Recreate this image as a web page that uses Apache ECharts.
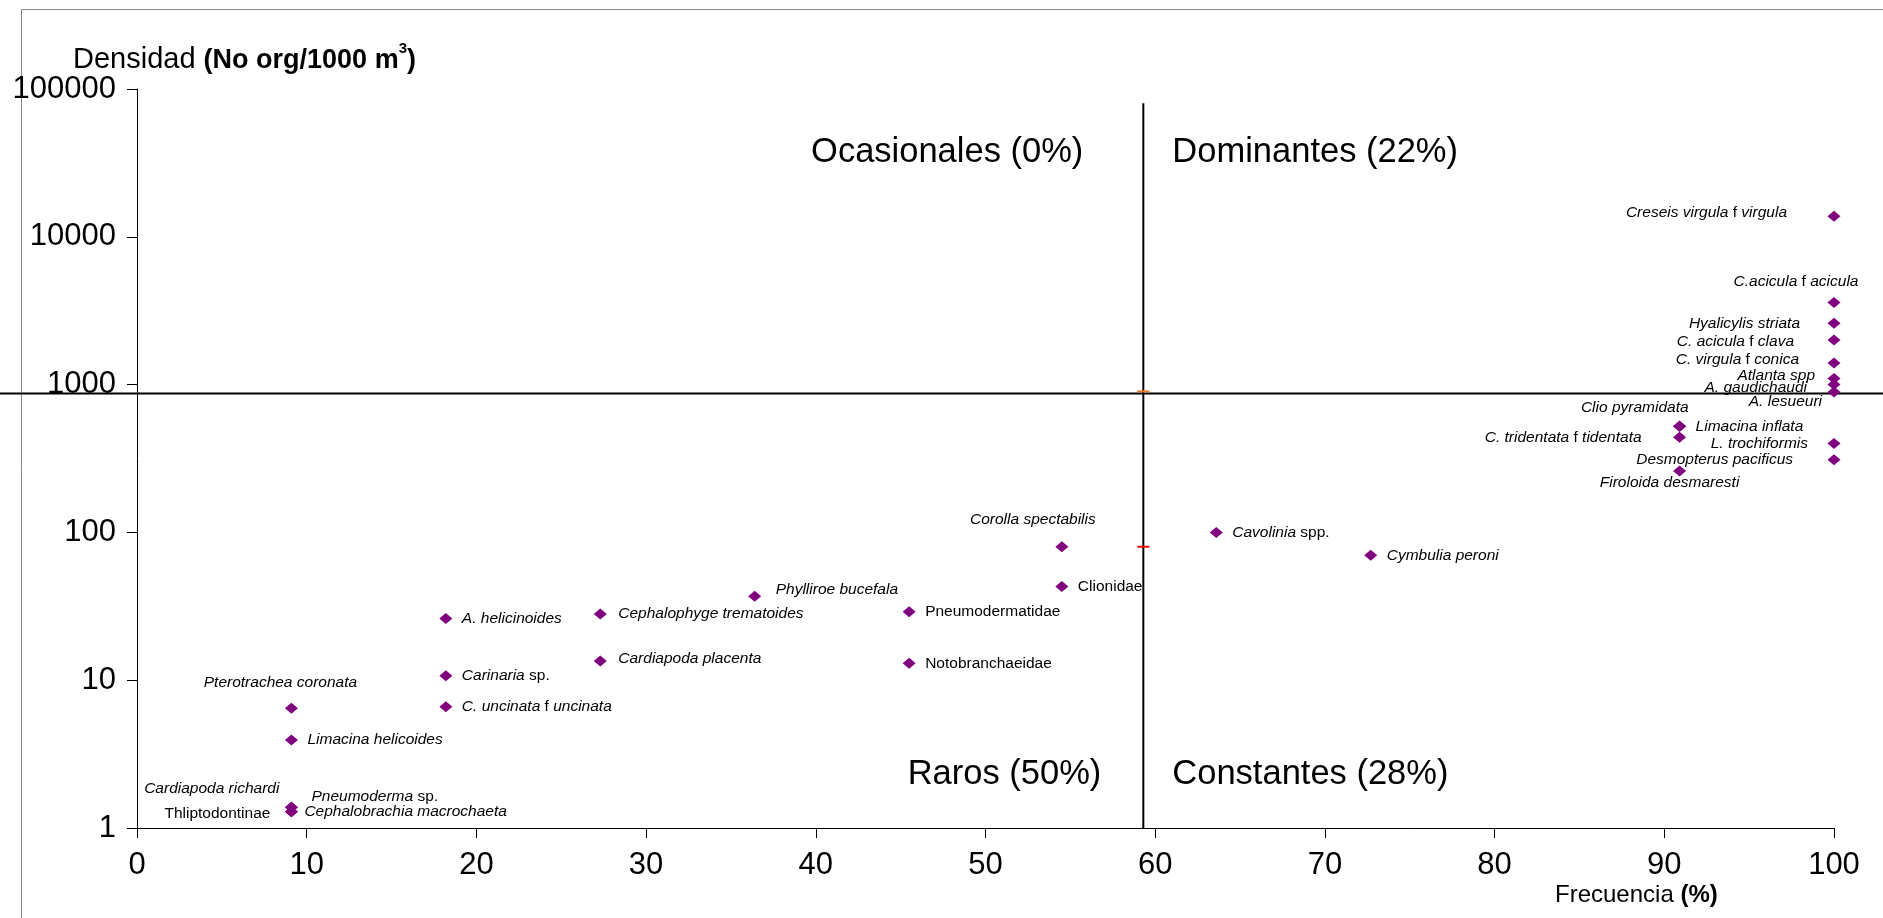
<!DOCTYPE html>
<html>
<head>
<meta charset="utf-8">
<script src="https://cdn.jsdelivr.net/npm/echarts@6/dist/echarts.min.js"></script>
<style>
  html, body { margin: 0; padding: 0; background: #fff; }
  #chart { width: 1883px; height: 918px; }
</style>
</head>
<body>
<div id="chart"></div>
<script>
// Species labels ({i|...} = italic part of the name)
const species = [
  '{i|Creseis virgula} f {i|virgula}',
  '{i|C.acicula} f {i|acicula}',
  '{i|Hyalicylis striata}',
  '{i|C. acicula} f {i|clava}',
  '{i|C. virgula} f {i|conica}',
  '{i|Atlanta spp}',
  '{i|A. gaudichaudi}',
  '{i|A. lesueuri}',
  '{i|Clio pyramidata}',
  '{i|Limacina inflata}',
  '{i|C. tridentata} f {i|tidentata}',
  '{i|L. trochiformis}',
  '{i|Desmopterus pacificus}',
  '{i|Firoloida desmaresti}',
  '{i|Cavolinia} spp.',
  '{i|Cymbulia peroni}',
  '{i|Corolla spectabilis}',
  'Clionidae',
  '{i|Phylliroe bucefala}',
  'Pneumodermatidae',
  '{i|Cephalophyge trematoides}',
  '{i|A. helicinoides}',
  '{i|Cardiapoda placenta}',
  'Notobranchaeidae',
  '{i|Carinaria} sp.',
  '{i|C. uncinata} f {i|uncinata}',
  '{i|Pterotrachea coronata}',
  '{i|Limacina helicoides}',
  '{i|Cardiapoda richardi}',
  '{i|Pneumoderma} sp.',
  'Thliptodontinae',
  '{i|Cephalobrachia macrochaeta}'
];

// Frequency of occurrence (%)
const frequency = [
  100, 100, 100, 100, 100, 100, 100, 100,
  90.9, 90.9, 90.9, 100, 100, 90.9,
  63.6, 72.7, 54.5, 54.5, 36.4, 45.5, 27.3, 18.2, 27.3, 45.5,
  18.2, 18.2, 9.1, 9.1, 9.1, 9.1, 9.1, 9.1
];

// Density (No org/1000 m3)
const density = [
  13800, 3600, 2600, 2000, 1400, 1100, 1000, 890,
  525, 520, 440, 400, 310, 260,
  100, 70, 80, 43, 37, 29, 28, 26.2, 13.5, 13,
  10.7, 6.6, 6.45, 3.94, 1.38, 1.38, 1.29, 1.29
];

// Quadrant dividers: mean frequency and mean density
const dividerFrequency = 59.3;
const dividerDensity = 877;

// Quadrant captions
const quadrantNames = ['Ocasionales (0%)', 'Dominantes (22%)', 'Raros (50%)', 'Constantes (28%)'];

// Axis ticks
const xTicks = [0, 10, 20, 30, 40, 50, 60, 70, 80, 90, 100];
const yTicks = [1, 10, 100, 1000, 10000, 100000];

// Where each species label sits around its marker: [align, dx, dy]
const labelPlacement = [
  ['right', -47, -3], ['center', -38, -21], ['right', -34, 0], ['right', -40, 2],
  ['right', -35, -3], ['right', -19, -3], ['right', -27, 3], ['right', -12, 10],
  ['right', 9, -18], ['left', 16, 0], ['right', -38, 0], ['right', -26, 0],
  ['right', -41, 0], ['center', -10, 12],
  ['left', 16, 0], ['left', 16, 0], ['center', -29, -27], ['left', 16, 0],
  ['left', 21, -7], ['left', 16, 0], ['left', 18, 0], ['left', 16, 0],
  ['left', 18, -2], ['left', 16, 0], ['left', 16, 0], ['left', 16, 0],
  ['center', -11, -26], ['left', 16, 0], ['right', -12, -19], ['left', 20, -11],
  ['right', -21, 2], ['left', 13, 0]
];

// Quadrant captions around the divider crossing: [density, align, dx]
const quadrantPlacement = [
  [37000, 'right', -60], [37000, 'left', 29],
  [2.3, 'right', -42], [2.3, 'left', 29]
];

const FONT = 'Liberation Sans, Arial, sans-serif';

const chart = echarts.init(document.getElementById('chart'), null, { renderer: 'canvas' });

const pointData = frequency.map((f, i) => ({
  value: [f, density[i]],
  label: { align: labelPlacement[i][0] }
}));

const quadrantData = quadrantPlacement.map(q => ({
  value: [dividerFrequency, q[0]],
  label: { align: q[1] }
}));

const option = {
  animation: false,
  backgroundColor: '#fff',
  grid: { left: 137, right: 49, top: 89, bottom: 90, containLabel: false, outerBoundsMode: 'none' },
  xAxis: {
    type: 'value',
    min: xTicks[0],
    max: xTicks[xTicks.length - 1],
    interval: xTicks[1] - xTicks[0],
    axisLine: { show: true, lineStyle: { color: '#000', width: 1 } },
    axisTick: { show: true, length: 10, lineStyle: { color: '#000', width: 1 } },
    axisLabel: { color: '#000', fontFamily: FONT, fontSize: 31, margin: 22 },
    splitLine: { show: false }
  },
  yAxis: {
    type: 'log',
    logBase: 10,
    min: yTicks[0],
    max: yTicks[yTicks.length - 1],
    axisLine: { show: true, lineStyle: { color: '#000', width: 1 } },
    axisTick: { show: true, length: 10, lineStyle: { color: '#000', width: 1 } },
    minorTick: { show: false },
    axisLabel: {
      color: '#000', fontFamily: FONT, fontSize: 31, margin: 21,
      formatter: v => String(Math.round(v))
    },
    splitLine: { show: false }
  },
  graphic: [
    {
      id: 'frame',
      type: 'rect', silent: true, z: -10,
      shape: { x: 21.5, y: 9.5, width: 2000, height: 2000 },
      style: { fill: 'none', stroke: '#858585', lineWidth: 1 }
    },
    {
      id: 'yname',
      type: 'text', left: 73, top: 41,
      style: {
        text: '{n|Densidad }{b|(No org/1000 m}{s|3}{b|)}',
        fill: '#000',
        rich: {
          n: { fontFamily: FONT, fontSize: 29, verticalAlign: 'bottom', lineHeight: 33 },
          b: { fontFamily: FONT, fontSize: 27, fontWeight: 'bold', verticalAlign: 'bottom', lineHeight: 33 },
          s: { fontFamily: FONT, fontSize: 15, fontWeight: 'bold', verticalAlign: 'top', lineHeight: 33 }
        }
      }
    },
    {
      id: 'xname',
      type: 'text', left: 1555, top: 883,
      style: {
        text: '{n|Frecuencia }{b|(%)}',
        fill: '#000',
        rich: {
          n: { fontFamily: FONT, fontSize: 24, verticalAlign: 'bottom', lineHeight: 29 },
          b: { fontFamily: FONT, fontSize: 24, fontWeight: 'bold', verticalAlign: 'bottom', lineHeight: 29 }
        }
      }
    }
  ],
  series: [
    {
      // vertical divider (mean frequency)
      type: 'line',
      silent: true,
      symbol: 'none',
      data: [[dividerFrequency, yTicks[0]], [dividerFrequency, 80000]],
      lineStyle: { color: '#000', width: 2 },
      z: 2
    },
    {
      type: 'scatter',
      silent: true,
      symbol: 'rect',
      symbolSize: [12, 2],
      itemStyle: { opacity: 1 },
      data: [
        { value: [dividerFrequency, 900], itemStyle: { color: '#f07a28' } },
        { value: [dividerFrequency, 80], itemStyle: { color: '#ff0000' } }
      ],
      z: 3
    },
    {
      // quadrant captions
      type: 'scatter',
      silent: true,
      symbol: 'circle',
      symbolSize: 1,
      itemStyle: { color: 'rgba(0,0,0,0)', opacity: 1 },
      data: quadrantData,
      label: {
        show: true,
        position: 'inside',
        verticalAlign: 'middle',
        formatter: p => quadrantNames[p.dataIndex],
        color: '#000',
        opacity: 1,
        fontFamily: FONT,
        fontSize: 34.5
      },
      labelLayout: p => ({ dx: quadrantPlacement[p.dataIndex][2], dy: 0 }),
      z: 4
    },
    {
      type: 'scatter',
      silent: true,
      symbol: 'diamond',
      symbolSize: [13, 11],
      itemStyle: { color: '#800080', opacity: 1 },
      data: pointData,
      label: {
        show: true,
        position: 'inside',
        verticalAlign: 'middle',
        formatter: p => species[p.dataIndex],
        color: '#000',
        fontFamily: FONT,
        fontSize: 15.5,
        rich: {
          i: { fontFamily: FONT, fontSize: 15.5, fontStyle: 'italic', color: '#000' }
        }
      },
      labelLayout: p => ({ dx: labelPlacement[p.dataIndex][1], dy: labelPlacement[p.dataIndex][2] }),
      z: 5
    }
  ]
};

chart.setOption(option);

// Horizontal divider (mean density) spans the whole frame width
const yDivider = Math.round(chart.convertToPixel({ yAxisIndex: 0 }, dividerDensity)) + 0.5;
chart.setOption({
  graphic: [{
    id: 'hdivider',
    type: 'line', silent: true, z: 2,
    shape: { x1: 0, y1: yDivider, x2: 1883, y2: yDivider },
    style: { stroke: '#000', lineWidth: 2 }
  }]
});
</script>
</body>
</html>
